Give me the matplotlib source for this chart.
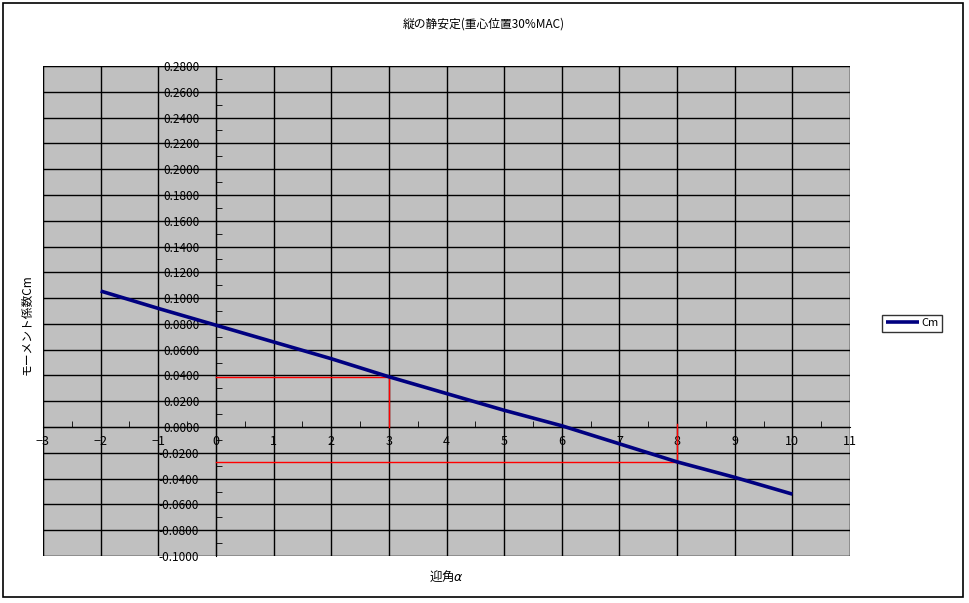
import matplotlib
matplotlib.use("Agg")
import matplotlib.pyplot as plt
from matplotlib.patches import Rectangle
from matplotlib.ticker import MultipleLocator, FuncFormatter

plt.rcParams['font.family'] = ['Noto Sans CJK JP', 'DejaVu Sans']

# data
alpha = [-2, -1, 0, 1, 2, 3, 4, 5, 6, 7, 8, 9, 10]
cm = [0.1055, 0.092, 0.079, 0.066, 0.053, 0.039, 0.026, 0.013, 0.001,
      -0.013, -0.027, -0.039, -0.052]

# helper lines (red)
mark1_x, mark1_y = 3, 0.039
mark2_x, mark2_y = 8, -0.027

fig = plt.figure(figsize=(9.69, 6.03), dpi=100)
fig.patches.append(Rectangle((3 / 969, 6 / 603), 960 / 969, 594 / 603,
                             transform=fig.transFigure, fill=False,
                             edgecolor='black', linewidth=1.2))

ax = fig.add_axes([43 / 969, 47 / 603, 807 / 969, 490 / 603])
ax.set_facecolor('#C0C0C0')

ax.set_xlim(-3, 11)
ax.set_ylim(-0.1, 0.28)
ax.xaxis.set_major_locator(MultipleLocator(1))
ax.xaxis.set_minor_locator(MultipleLocator(0.5))
ax.yaxis.set_major_locator(MultipleLocator(0.02))
ax.yaxis.set_minor_locator(MultipleLocator(0.01))
ax.grid(True, which='major', color='black', linewidth=1.0)
ax.set_axisbelow(True)

ax.spines['left'].set_position(('data', 0))
ax.spines['bottom'].set_position(('data', 0))
ax.spines['right'].set_visible(False)
ax.spines['top'].set_visible(False)

ax.yaxis.set_major_formatter(FuncFormatter(lambda v, p: f'{v:.4f}'.replace('-0.0000', '0.0000')))
ax.tick_params(axis='y', which='major', length=0, labelsize=8.5, pad=12)
ax.tick_params(axis='y', which='minor', length=4, direction='in')
ax.tick_params(axis='x', which='major', length=0, labelsize=9, pad=6)
ax.tick_params(axis='x', which='minor', length=4, direction='in')

# outer frame of the plot area (gray)
ax.add_patch(Rectangle((0, 0), 1, 1, transform=ax.transAxes, fill=False,
                       edgecolor='#808080', linewidth=1.0, zorder=0.5))

ax.plot([0, mark1_x], [mark1_y, mark1_y], color='red', linewidth=1.0, zorder=3)
ax.plot([mark1_x, mark1_x], [0, mark1_y], color='red', linewidth=1.0, zorder=3)
ax.plot([0, mark2_x], [mark2_y, mark2_y], color='red', linewidth=1.0, zorder=3)
ax.plot([mark2_x, mark2_x], [0.002, mark2_y], color='red', linewidth=1.0, zorder=3)

ax.plot(alpha, cm, color='#000080', linewidth=2.6, label='Cm', zorder=4,
        solid_capstyle='butt')

leg = ax.legend(loc='center left', bbox_to_anchor=(1.04, 0.475), frameon=True,
                fancybox=False, edgecolor='black', fontsize=8, handlelength=3.0,
                handletextpad=0.2, borderpad=0.3, borderaxespad=0)
leg.get_frame().set_linewidth(1.0)

fig.text(484 / 969, 1 - 24 / 603, '縦の静安定(重心位置30%MAC)', ha='center',
         va='center', fontsize=8.5)
fig.text(27 / 969, 1 - 325 / 603, 'モーメント係数Cm', ha='center', va='center',
         rotation=90, fontsize=8.5)
fig.text(447 / 969, 1 - 576 / 603, '迎角$\\alpha$', ha='center', va='center',
         fontsize=9)

fig.savefig('out.png', dpi=100)
